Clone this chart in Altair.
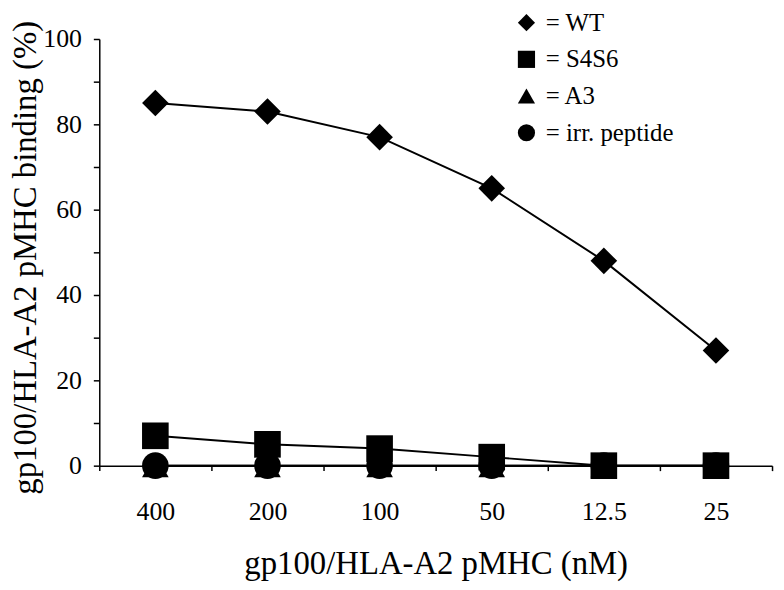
import altair as alt
import pandas as pd

concentrations = ["400", "200", "100", "50", "12.5", "25"]
series_names = ["WT", "S4S6", "A3", "irr. peptide"]
wt = [85, 83, 77, 65, 48, 27]
s4s6 = [7, 5, 4, 2, 0, 0]
a3 = [0, 0, 0, 0, 0, 0]
irr = [0, 0, 0, 0, 0, 0]

# drawing order: A3 first, then irr. peptide, S4S6, WT on top
rows = []
for name, vals in [("A3", a3), ("irr. peptide", irr), ("S4S6", s4s6), ("WT", wt)]:
    for c, v in zip(concentrations, vals):
        rows.append({"series": name, "conc": c, "value": v})
df = pd.DataFrame(rows)

FONT = "'Liberation Serif', 'Times New Roman', Times, serif"

x_enc = alt.X(
    "conc:N",
    sort=concentrations,
    scale=alt.Scale(type="band", paddingInner=0, paddingOuter=0, domain=concentrations),
    axis=alt.Axis(
        title="gp100/HLA-A2 pMHC (nM)",
        labelAngle=0,
        tickBand="extent",
        tickSize=5,
        labelPadding=28,
        titlePadding=24,
        labelFontSize=26,
        titleFontSize=33,
        labelFont=FONT,
        titleFont=FONT,
    ),
)
y_enc = alt.Y(
    "value:Q",
    scale=alt.Scale(domain=[0, 100], nice=False),
    axis=alt.Axis(
        title="gp100/HLA-A2 pMHC binding (%)",
        values=list(range(0, 101, 10)),
        labelExpr="datum.value % 20 === 0 ? datum.label : ''",
        tickSize=6,
        labelPadding=12,
        titlePadding=0,
        titleY=220,
        labelFontSize=26,
        titleFontSize=33,
        labelFont=FONT,
        titleFont=FONT,
        grid=False,
    ),
)

lines = alt.Chart(df).mark_line(color="black", strokeWidth=2).encode(
    x=x_enc, y=y_enc, detail="series:N"
)

points = alt.Chart(df).mark_point(filled=True, color="black", opacity=1, size=720).encode(
    x=x_enc,
    y=y_enc,
    shape=alt.Shape(
        "series:N",
        scale=alt.Scale(
            domain=series_names,
            range=["diamond", "square", "triangle-up", "circle"],
        ),
        legend=alt.Legend(
            title=None,
            orient="none",
            legendX=418,
            legendY=-29,
            labelExpr="'= ' + datum.label",
            symbolSize=300,
            symbolFillColor="black",
            symbolStrokeColor="black",
            symbolOpacity=1,
            labelFontSize=25,
            labelFont=FONT,
            labelOffset=7,
            rowPadding=11,
            padding=0,
        ),
    ),
)

chart = (
    alt.layer(lines, points)
    .properties(
        width=678,
        height=430,
        autosize=alt.AutoSizeParams(type="none"),
        padding={"left": 92, "top": 29, "right": 4, "bottom": 115},
    )
    .configure(font=FONT)
    .configure_view(stroke=None)
    .configure_axis(
        labelFont=FONT,
        titleFont=FONT,
        labelColor="black",
        titleColor="black",
        titleFontWeight="normal",
        domainColor="black",
        tickColor="black",
        domainWidth=1.5,
        tickWidth=1.5,
    )
    .configure_legend(labelColor="black", labelFont=FONT)
)

chart.save("out.html", embed_options={"renderer": "svg", "actions": False})
